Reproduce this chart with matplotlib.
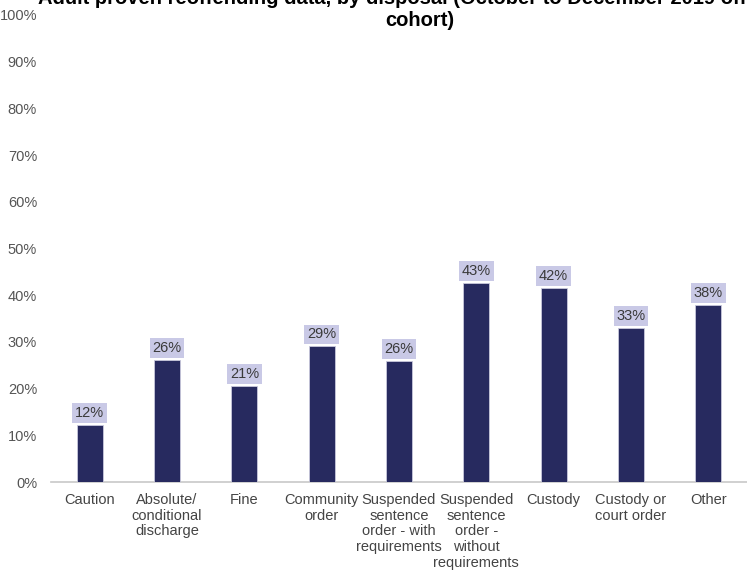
import numpy as np
import matplotlib.pyplot as plt

plt.rcParams['font.family'] = ['Liberation Sans', 'DejaVu Sans']

categories = ['Caution', 'Absolute/\nconditional\ndischarge', 'Fine', 'Community\norder',
              'Suspended\nsentence\norder - with\nrequirements',
              'Suspended\nsentence\norder -\nwithout\nrequirements',
              'Custody', 'Custody or\ncourt order', 'Other']
rates = [12.2, 26.2, 20.6, 29.1, 25.9, 42.7, 41.6, 33.0, 37.9]

fig = plt.figure(figsize=(7.47, 5.73), dpi=100)
ax = fig.add_axes([51/747, 1 - 482/573, 696/747, 467/573])

x = np.arange(len(categories))
ax.bar(x, rates, width=0.34, color='#272a5f', edgecolor='#c8c8dc', linewidth=0.6, zorder=3)

for xi, v in zip(x, rates):
    ax.text(xi, v + 1.0, '%d%%' % round(v), ha='center', va='bottom', fontsize=10.5,
            color='#3a3a3a',
            bbox=dict(boxstyle='square,pad=0.2', facecolor='#c9c9e6', edgecolor='none'))

ax.set_xlim(-0.5, 8.5)
ax.set_ylim(0, 100)
ax.set_yticks(np.arange(0, 101, 10))
ax.set_yticklabels(['%d%%' % t for t in range(0, 101, 10)])
ax.set_xticks(x)
ax.set_xticklabels(categories, fontsize=10.5, color='#444444', linespacing=1.15)
ax.tick_params(axis='y', labelsize=10.5, labelcolor='#555555', length=0, pad=10)
ax.tick_params(axis='x', length=0, pad=8)

for s in ['top', 'right', 'left']:
    ax.spines[s].set_visible(False)
ax.spines['bottom'].set_color('#c8c8c8')
ax.spines['bottom'].set_linewidth(1.2)

# title is clipped at the top edge, as in the original
fig.text(420/747, 1 - 10/573,
         'Adult proven reoffending data, by disposal (October to December 2019 offender\ncohort)',
         ha='center', va='center', fontsize=14.5, fontweight='bold',
         linespacing=1.2)

plt.savefig('out.png', dpi=100)
